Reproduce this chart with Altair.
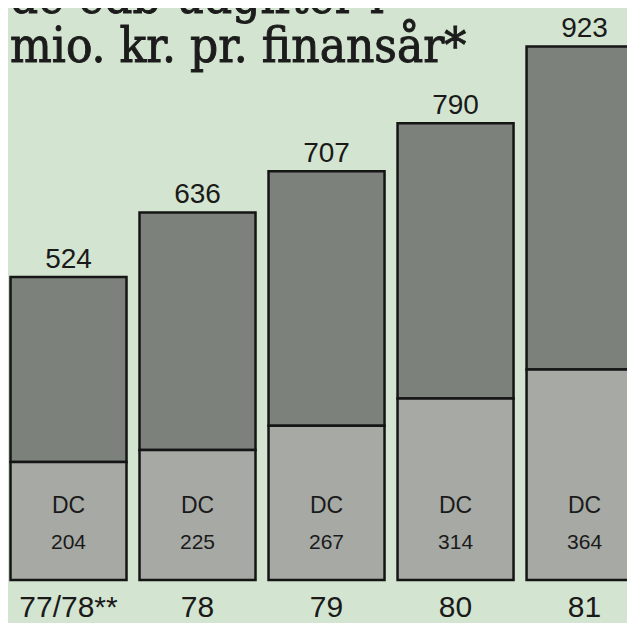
import altair as alt
import pandas as pd

categories = ["77/78**", "78", "79", "80", "81"]
totals = [524, 636, 707, 790, 923]
dc_values = [204, 225, 267, 314, 364]
title_lines = ["de edb-udgifter i", "mio. kr. pr. finansår*"]

df = pd.DataFrame({
    "idx": list(range(len(categories))),
    "cat": categories,
    "total": totals,
    "dc": dc_values,
    "dc_label": ["DC"] * len(categories),
})

W, H = 619, 615
xs = alt.Scale(domain=[-0.469, 4.329], range=[0, W], nice=False, zero=False, padding=0)
ys = alt.Scale(domain=[-74.4, 989.6], range=[H, 0], nice=False, zero=False, padding=0)

base = alt.Chart(df)
X = alt.X("idx:Q", scale=xs, axis=None)

lower = base.mark_bar(size=116, color="#a6a9a4", stroke="#151515", strokeWidth=2.5, clip=True).encode(
    x=X, y=alt.Y("zero:Q", scale=ys, axis=None), y2="dc:Q"
).transform_calculate(zero="0")
upper = base.mark_bar(size=116, color="#7c817c", stroke="#151515", strokeWidth=2.5, clip=True).encode(
    x=X, y=alt.Y("dc:Q", scale=ys, axis=None), y2="total:Q"
)
total_txt = base.mark_text(font="Liberation Sans", fontSize=28, color="#1a1a1a", baseline="alphabetic", dy=-9, clip=True).encode(
    x=X, y=alt.Y("total:Q", scale=ys, axis=None), text="total:Q"
)
dc_txt = base.mark_text(font="Liberation Sans", fontSize=23, color="#1a1a1a", baseline="alphabetic", clip=True).encode(
    x=X, y=alt.value(505), text="dc_label:N"
)
dc_num = base.mark_text(font="Liberation Sans", fontSize=21, color="#1a1a1a", baseline="alphabetic", clip=True).encode(
    x=X, y=alt.value(541), text="dc:Q"
)
cat_txt = base.mark_text(font="Liberation Sans", fontSize=30, color="#1a1a1a", baseline="alphabetic", clip=True).encode(
    x=X, y=alt.value(609), text="cat:N"
)

tdf = pd.DataFrame({"line": title_lines, "yy": [5, 54]})
title_txt = alt.Chart(tdf).mark_text(font="DejaVu Serif Condensed", fontSize=49, color="#1c1c1c",
                                     stroke="#1c1c1c", strokeWidth=0.9,
                                     align="left", baseline="alphabetic").encode(
    x=alt.value(2), y=alt.Y("yy:Q", scale=alt.Scale(domain=[0, H], range=[0, H], nice=False, zero=False), axis=None),
    text="line:N"
)

chart = alt.layer(upper, lower, total_txt, dc_txt, dc_num, cat_txt, title_txt).resolve_scale(y="independent").properties(
    width=W, height=H, autosize=alt.AutoSizeParams(type="none"), padding=0, background="#d3e5d0"
).configure_view(stroke=None)

chart.save("out.html", embed_options={"renderer": "svg", "actions": False})
